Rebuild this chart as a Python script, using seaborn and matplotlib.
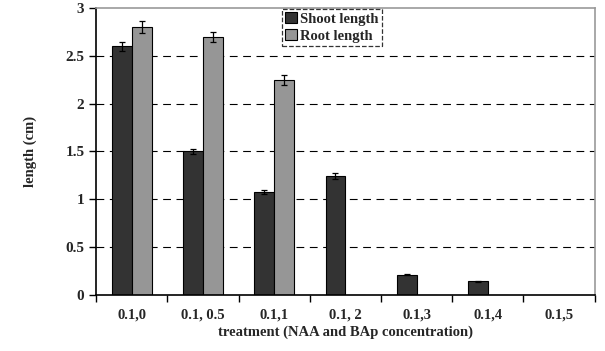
import numpy as np
import pandas as pd
import seaborn as sns
import matplotlib.pyplot as plt

sns.set_theme(style="white")
plt.rcParams['font.family'] = ['Liberation Serif', 'DejaVu Serif']
plt.rcParams['font.weight'] = 'bold'

# data
treatments = ['0.1,0', '0.1, 0.5', '0.1,1', '0.1, 2', '0.1,3', '0.1,4', '0.1,5']
shoot_length = [2.60, 1.50, 1.08, 1.24, 0.21, 0.14, 0.0]
shoot_err = [0.05, 0.03, 0.02, 0.03, 0.005, 0.005, 0.0]
root_length = [2.80, 2.70, 2.25, 0.0, 0.0, 0.0, 0.0]
root_err = [0.06, 0.05, 0.05, 0.0, 0.0, 0.0, 0.0]
series = ['Shoot length', 'Root length']

df = pd.DataFrame({
    'treatment': treatments * 2,
    'length': shoot_length + root_length,
    'err': shoot_err + root_err,
    'series': [series[0]] * len(treatments) + [series[1]] * len(treatments),
})

fig = plt.figure(figsize=(6.05, 3.51), dpi=100)
ax = fig.add_axes([0.159, 0.16, 0.824, 0.817])

sns.barplot(data=df, x='treatment', y='length', hue='series', ax=ax,
            palette=['#333333', '#969696'], width=0.56, edgecolor='black',
            linewidth=0.8, errorbar=None, saturation=1)

# error bars on each visible bar
for cont, s in zip(ax.containers, series):
    sub = df[df['series'] == s]
    xs = [p.get_x() + p.get_width() / 2 for p in cont.patches]
    vals = sub['length'].values
    errs = sub['err'].values
    mask = vals > 0
    ax.errorbar(np.array(xs)[mask], vals[mask], yerr=errs[mask], fmt='none',
                ecolor='black', elinewidth=0.9, capsize=2, capthick=0.9)

ax.set_ylim(0, 3)
ax.set_xlim(-0.5, len(treatments) - 0.5)
ax.set_yticks(np.arange(0, 3.01, 0.5))
ax.set_yticklabels(['0', '0.5', '1', '1.5', '2', '2.5', '3'])
for y in np.arange(0.5, 2.51, 0.5):
    ax.axhline(y, color='black', linestyle=(0, (7, 5)), linewidth=0.8, zorder=0)

# ticks between categories
ax.set_xticks(np.arange(-0.5, len(treatments), 1.0), minor=True)
ax.tick_params(axis='x', which='major', length=0, pad=10, labelsize=10.5)
ax.tick_params(axis='x', which='minor', length=5, width=1, direction='out', color='black', bottom=True)
ax.tick_params(axis='y', length=5, width=1, direction='out', color='black', left=True, labelsize=11)
for lab in ax.get_xticklabels() + ax.get_yticklabels():
    lab.set_fontweight('bold')

for side in ['left', 'bottom']:
    ax.spines[side].set_color('black')
    ax.spines[side].set_linewidth(1.2)
for side in ['top', 'right']:
    ax.spines[side].set_color('#999999')
    ax.spines[side].set_linewidth(1.2)

ax.set_xlabel('treatment (NAA and BAp concentration)', fontsize=10.5, fontweight='bold', labelpad=3)
ax.set_ylabel('length (cm)', fontsize=10.5, fontweight='bold', labelpad=20)

leg = ax.legend(loc='upper left', bbox_to_anchor=(0.372, 0.998), borderaxespad=0,
                frameon=True, fancybox=False, handlelength=0.8, handleheight=0.8,
                handletextpad=0.2, borderpad=0.25, labelspacing=0.2,
                prop={'weight': 'bold', 'size': 10.5})
leg.get_frame().set_edgecolor('black')
leg.get_frame().set_linestyle('--')
leg.get_frame().set_linewidth(0.9)

fig.savefig('out.png', dpi=100)
